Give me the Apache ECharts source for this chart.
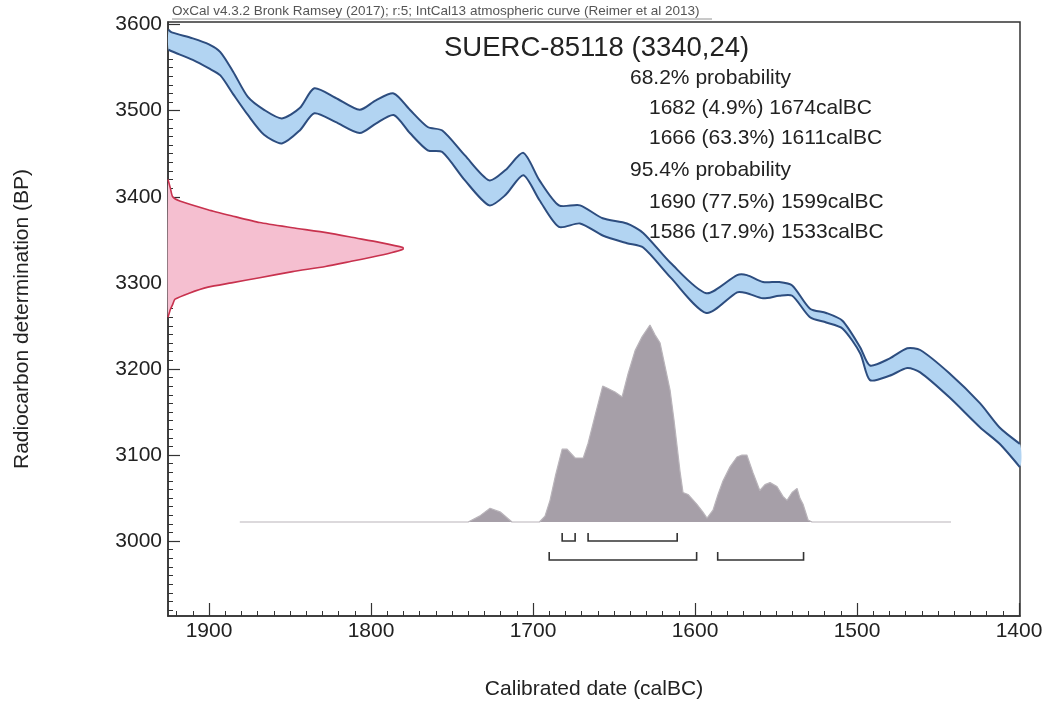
<!DOCTYPE html>
<html>
<head>
<meta charset="utf-8">
<script src="https://cdn.jsdelivr.net/npm/echarts@6/dist/echarts.min.js"></script>
<style>
html,body{margin:0;padding:0;background:#fff;}
#chart{width:1044px;height:706px;}
</style>
</head>
<body>
<div id="chart"></div>
<script>
// ---------- DATA ----------
// IntCal13 calibration band (calBC years, upper / lower BP edges)
const curveYears = [1925,1923,1910,1900,1893,1885,1876,1866,1855,1844,1835,1822,1807,1797,1786,1776,1765,1756,1742,1727,1717,1706,1696,1684,1671,1657,1642,1632,1615,1593,1574,1568,1558,1548,1540,1529,1519,1509,1498,1492,1480,1469,1461,1443,1424,1412,1399.5];
const curveUpper = [3594,3591,3584,3577,3568,3545,3516,3501,3491,3503,3526,3515,3501,3512,3520,3501,3481,3477,3448,3419,3431,3451,3419,3390,3390,3375,3369,3358,3323,3288,3309,3309,3301,3301,3297,3270,3265,3256,3225,3204,3212,3224,3222,3195,3160,3132,3113];
const curveLower = [3571,3569,3559,3549,3541,3519,3495,3472,3462,3477,3497,3487,3474,3485,3495,3474,3454,3452,3419,3390,3402,3425,3396,3365,3369,3355,3346,3341,3306,3265,3289,3288,3282,3285,3285,3260,3254,3247,3218,3187,3192,3201,3196,3167,3132,3113,3086];

// Radiocarbon measurement distribution (BP, relative density)
const measBP = [3420,3410,3400,3395,3385,3378,3370,3364,3358,3352,3347,3341,3339,3335,3330,3325,3319,3313,3306,3300,3295,3288,3281,3275,3269,3260];
const measD  = [0,0.01,0.02,0.05,0.17,0.27,0.39,0.53,0.68,0.80,0.90,1.0,1.0,0.95,0.87,0.78,0.67,0.53,0.39,0.27,0.17,0.09,0.03,0.02,0.01,0];

// Calibrated date distribution (calBC, relative density)
const postYears = [1881,1740,1733,1726.5,1720,1713,1696,1692.6,1689.5,1686,1682,1679,1674,1669,1666,1661.7,1657,1654.3,1649.4,1645,1641.4,1637,1632.7,1627.8,1624.7,1621.6,1618.5,1615.4,1613,1611,1609.3,1607.4,1604.3,1598.8,1595.1,1592.6,1588.9,1585.8,1582.7,1578.4,1574.1,1571,1568,1564.2,1560,1556.8,1553.7,1549.4,1545.7,1543.2,1540.1,1537,1535.2,1533.3,1530.2,1527.8,1442];
const postD     = [0,0,0.03,0.07,0.05,0,0,0.03,0.11,0.24,0.37,0.37,0.325,0.325,0.40,0.54,0.69,0.68,0.66,0.635,0.75,0.87,0.94,1.0,0.95,0.91,0.79,0.67,0.52,0.38,0.26,0.15,0.14,0.09,0.05,0.02,0.06,0.14,0.21,0.28,0.33,0.34,0.34,0.25,0.16,0.19,0.20,0.18,0.13,0.11,0.15,0.17,0.12,0.09,0.01,0,0];

// Probability ranges: [from, to, row] row 0 = 68.2%, row 1 = 95.4%
const ranges = [[1682,1674,0],[1666,1611,0],[1690,1599,1],[1586,1533,1]];

// Tick values
const xTicks = [1900,1800,1700,1600,1500,1400];
const yTicks = [3000,3100,3200,3300,3400,3500,3600];
const xMinor = []; for (let v = 1400; v <= 1920; v += 10) xMinor.push(v);
const yMinor = []; for (let v = 2920; v <= 3600; v += 10) yMinor.push(v);

// Texts
const creditText = 'OxCal v4.3.2 Bronk Ramsey (2017); r:5; IntCal13 atmospheric curve (Reimer et al 2013)';
const titleText = 'SUERC-85118 (3340,24)';
const infoLines = ['68.2% probability','1682 (4.9%) 1674calBC','1666 (63.3%) 1611calBC','95.4% probability','1690 (77.5%) 1599calBC','1586 (17.9%) 1533calBC'];
const infoIndent = [0,1,1,0,1,1];

// ---------- CHART ----------
const FONT = '"Liberation Sans", Arial, Helvetica, sans-serif';
const chart = echarts.init(document.getElementById('chart'), null, {renderer:'canvas'});

const graphics = [
  {type:'text', x:172, y:11, style:{text:creditText, fontSize:13.5, fontFamily:FONT, fill:'#555', verticalAlign:'middle'}},
  {type:'line', shape:{x1:172, y1:19, x2:712, y2:19}, style:{stroke:'#777', lineWidth:0.8}},
  {type:'text', x:444, y:48, style:{text:titleText, fontSize:27.5, fontFamily:FONT, fill:'#222', verticalAlign:'middle'}}
];
const infoY = [78,108,138,170,202,232];
infoLines.forEach((t,i)=>{
  graphics.push({type:'text', x: infoIndent[i] ? 649 : 630, y: infoY[i],
    style:{text:t, fontSize:21, fontFamily:FONT, fill:'#222', verticalAlign:'middle'}});
});
const plain = v => String(v);

const option = {
  animation:false,
  backgroundColor:'#fff',
  grid:{left:168, right:24, top:22, bottom:90, containLabel:false, outerBoundsMode:'none',
        show:true, borderColor:'#333', borderWidth:1.5, backgroundColor:'rgba(0,0,0,0)'},
  xAxis:[
    {type:'value', min:1399.4, max:1925.3, inverse:true, position:'bottom',
     name:'Calibrated date (calBC)', nameLocation:'middle', nameGap:63,
     nameTextStyle:{fontSize:21, color:'#222', fontFamily:FONT},
     axisLine:{show:true, onZero:false, lineStyle:{color:'#333', width:1.5}},
     axisTick:{show:true, inside:true, length:13, customValues:xTicks, lineStyle:{color:'#333', width:1.2}},
     axisLabel:{show:true, customValues:xTicks, formatter:plain, fontSize:21, color:'#222', margin:5, fontFamily:FONT, hideOverlap:false},
     splitLine:{show:false}},
    {type:'value', min:0, max:3.626, show:false},
    {type:'value', min:1399.4, max:1925.3, inverse:true, position:'bottom',
     axisLine:{show:false}, axisLabel:{show:false},
     axisTick:{show:true, inside:true, length:5, customValues:xMinor, lineStyle:{color:'#333', width:1}},
     splitLine:{show:false}}
  ],
  yAxis:[
    {type:'value', min:2913, max:3603, position:'left',
     name:'Radiocarbon determination (BP)', nameLocation:'middle', nameGap:135,
     nameTextStyle:{fontSize:21, color:'#222', fontFamily:FONT},
     axisLine:{show:true, onZero:false, lineStyle:{color:'#333', width:1.5}},
     axisTick:{show:true, inside:true, length:12, customValues:yTicks, lineStyle:{color:'#333', width:1.2}},
     axisLabel:{show:true, customValues:yTicks, formatter:plain, fontSize:21, color:'#222', margin:6, fontFamily:FONT},
     splitLine:{show:false}},
    {type:'value', min:-0.477, max:2.538, show:false},
    {type:'value', min:2913, max:3603, position:'left',
     axisLine:{show:false}, axisLabel:{show:false},
     axisTick:{show:true, inside:true, length:5, customValues:yMinor, lineStyle:{color:'#333', width:1}},
     splitLine:{show:false}}
  ],
  graphic: graphics,
  series:[
    {type:'custom', xAxisIndex:0, yAxisIndex:0, data:[[curveYears[0], curveUpper[0]]], silent:true, z:1,
     renderItem:function(params, api){
       const pts = [];
       for (let i=0;i<curveYears.length;i++) pts.push(api.coord([curveYears[i], curveUpper[i]]));
       for (let i=curveYears.length-1;i>=0;i--) pts.push(api.coord([curveYears[i], curveLower[i]]));
       return {type:'polygon', shape:{points:pts, smooth:0.25}, style:{fill:'#b2d4f2', stroke:null}};
     }},
    {type:'custom', xAxisIndex:0, yAxisIndex:0, data:[[curveYears[0], curveUpper[0]]], silent:true, z:3,
     renderItem:function(params, api){
       const up = curveYears.map((y,i)=>api.coord([y, curveUpper[i]]));
       const lo = curveYears.map((y,i)=>api.coord([y, curveLower[i]]));
       return {type:'group', children:[
         {type:'polyline', shape:{points:up, smooth:0.25}, style:{stroke:'#2d4d7f', lineWidth:2, fill:null}},
         {type:'polyline', shape:{points:lo, smooth:0.25}, style:{stroke:'#2d4d7f', lineWidth:2, fill:null}}
       ]};
     }},
    {type:'custom', xAxisIndex:1, yAxisIndex:0, data:[[0,3340]], silent:true, z:2,
     renderItem:function(params, api){
       const pts = measBP.map((b,i)=>api.coord([measD[i], b]));
       return {type:'group', children:[
         {type:'polygon', shape:{points:pts, smooth:0.2}, style:{fill:'#f5bfd0', stroke:null}},
         {type:'polyline', shape:{points:pts, smooth:0.2}, style:{stroke:'#c8324e', lineWidth:1.6, fill:null}}
       ]};
     }},
    {type:'line', xAxisIndex:0, yAxisIndex:1, data:postYears.map((y,i)=>[y,postD[i]]), symbol:'none', silent:true, z:2,
     lineStyle:{color:'#b9b4ba', width:1.2}, areaStyle:{color:'#a69fa8', opacity:1}},
    {type:'custom', xAxisIndex:0, yAxisIndex:1, data:ranges, encode:{x:[0,1], y:2}, silent:true, z:4,
     renderItem:function(params, api){
       const a = api.coord([api.value(0), 0]);
       const b = api.coord([api.value(1), 0]);
       const yb = a[1] + 19 + api.value(2)*19;
       return {type:'polyline', shape:{points:[[a[0],yb-8],[a[0],yb],[b[0],yb],[b[0],yb-8]]},
               style:{stroke:'#333', lineWidth:1.6, fill:null}};
     }}
  ]
};
chart.setOption(option);
</script>
</body>
</html>
